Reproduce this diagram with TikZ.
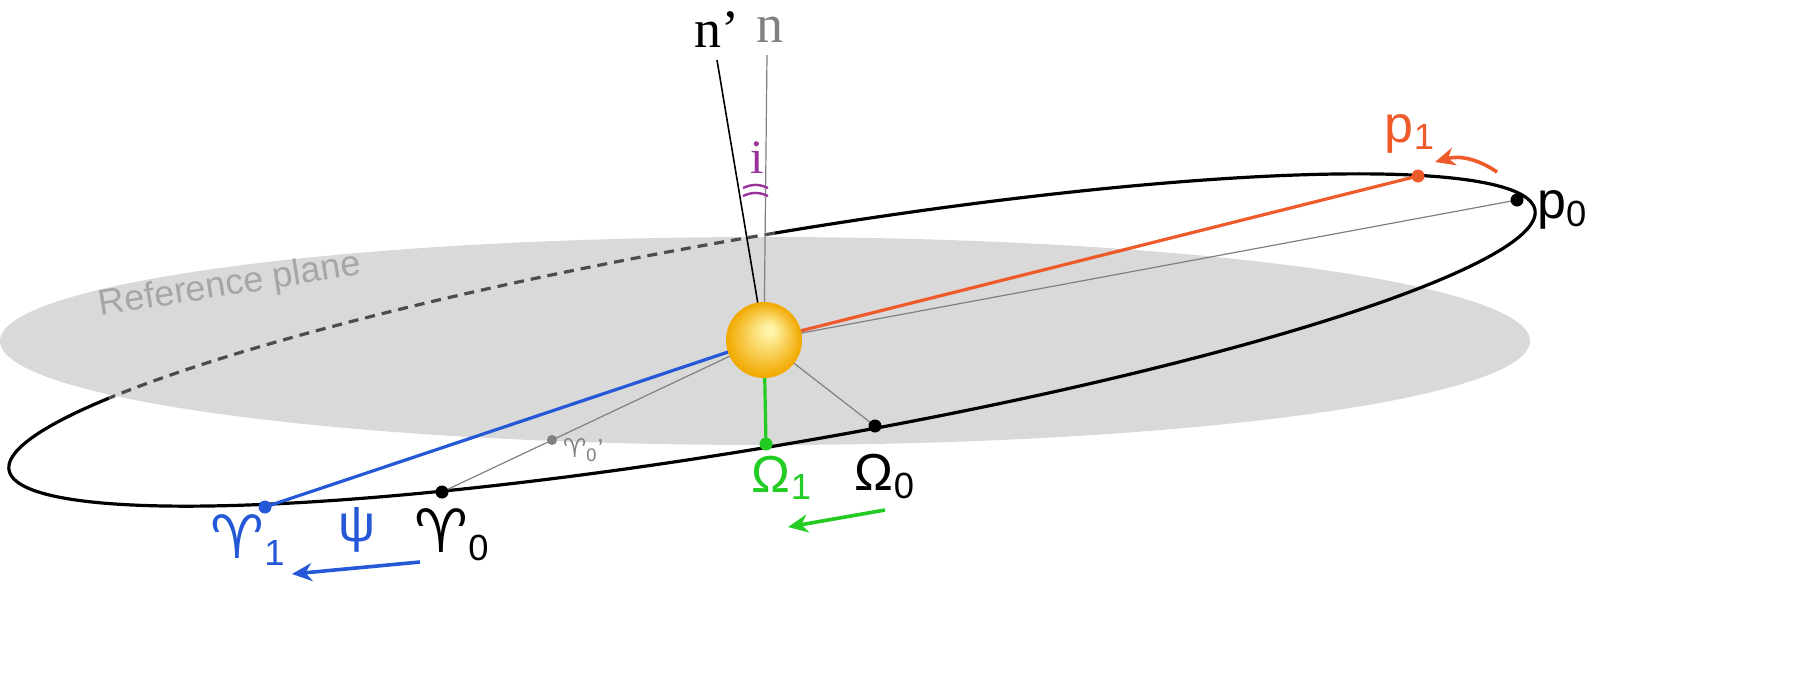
\documentclass[tikz,border=0pt]{standalone}
\usepackage{fontspec}
\setmainfont{Liberation Sans}
\newfontfamily\serifx{Liberation Serif}
\newfontfamily\djv{DejaVu Sans}
\usetikzlibrary{arrows.meta}
\definecolor{plane}{HTML}{D9D9D9}
\definecolor{orng}{HTML}{EE5A2A}
\definecolor{blu}{HTML}{2458D6}
\definecolor{grn}{HTML}{22CC22}
\definecolor{purp}{HTML}{993399}
\definecolor{sunout}{HTML}{F2A900}
\definecolor{sunin}{HTML}{FFF7B0}
\tikzset{
  dotp/.style={circle,fill,inner sep=0pt,minimum size=6.5pt},
  thin gray/.style={draw=gray,line width=0.6pt},
  lbl/.style={font=\fontsize{26}{28}\selectfont},
  arw/.style={line width=1.8pt,-{Stealth[length=10pt,width=9pt]}},
}
\begin{document}
\begin{tikzpicture}[x=0.5pt,y=-0.5pt]
\useasboundingbox (0,0) rectangle (1820,676);
% reference plane
\fill[plane] (765,341) ellipse [x radius=765, y radius=104];
\node[text=gray!70,font=\fontsize{18}{20}\selectfont,rotate=9] (rp) at (230,286) {Reference plane};
% orbit
\draw[line width=1.6pt,black] plot[domain=149:448.5,samples=240] ({772+763*cos(\x)-17.6*sin(\x)},{340-130*cos(\x)-103.5*sin(\x)});
\draw[line width=1.6pt,black!70,dash pattern=on 5pt off 3.5pt] plot[domain=88.5:149,samples=80] ({772+763*cos(\x)-17.6*sin(\x)},{340-130*cos(\x)-103.5*sin(\x)});
% points
\coordinate (sun) at (764,340);
\coordinate (p0) at (1517,200);
\coordinate (p1) at (1418,176);
\coordinate (U1) at (265,507);
\coordinate (U0) at (442,492);
\coordinate (U0p) at (552,440);
\coordinate (O1) at (766,444);
\coordinate (O0) at (875,426);
% axes
\coordinate (ntop) at (767,55);
\coordinate (nptop) at (717,60);
\draw[thin gray] (ntop) -- (sun);
\draw[line width=0.8pt] (nptop) -- (sun);
% lines
\draw[thin gray] (sun) -- (p0);
\draw[thin gray] (sun) -- (U0);
\draw[thin gray] (sun) -- (O0);
\draw[orng,line width=1.6pt] (sun) -- (p1);
\draw[blu,line width=1.6pt] (sun) -- (U1);
\draw[grn,line width=1.6pt] (sun) -- (O1);
% sun
\foreach \k in {0,...,19}{
  \pgfmathsetmacro\r{38-1.7*\k}
  \pgfmathsetmacro\m{100-5*\k}
  \fill[sunout!\m!sunin] ({764+0.3*\k},{340-0.5*\k}) circle (\r);
}
\node[circle,inner sep=0pt,minimum size=38pt] (sunn) at (sun) {};
% dots
\node[dotp,fill=black] (p0d) at (p0) {};
\node[dotp,fill=orng] (p1d) at (p1) {};
\node[dotp,fill=blu] (U1d) at (U1) {};
\node[dotp,fill=black] (U0d) at (U0) {};
\node[dotp,fill=gray,minimum size=5pt] (U0pd) at (U0p) {};
\node[dotp,fill=grn] (O1d) at (O1) {};
\node[dotp,fill=black] (O0d) at (O0) {};
% labels
\node[font=\serifx\fontsize{27}{29}\selectfont] (nl) at (770,30) {\color{gray}n};
\node[font=\serifx\fontsize{27}{29}\selectfont] (npl) at (717,30) {n’};
\node[font=\serifx\fontsize{24}{26}\selectfont,text=purp] (il) at (757,158) {i};
\draw[purp,line width=1.2pt] (743,188) to[bend left=25] (768,188);
\draw[purp,line width=1.2pt] (743,196) to[bend left=25] (768,196);
\node[lbl,text=orng,anchor=base] (p1l) at (1410,142) {p\textsubscript{1}};
\node[lbl,anchor=west] (p0l) at (1530,210) {p\textsubscript{0}};
\coordinate (pa1) at (1497,172);
\coordinate (pa2) at (1435,162);
\draw[orng,arw] (pa1) to[bend right=25] (pa2);
\node[lbl,text=grn,anchor=base] (O1l) at (782,492) {Ω\textsubscript{1}};
\node[lbl,anchor=base] (O0l) at (885,490) {Ω\textsubscript{0}};
\coordinate (ga1) at (885,510);
\coordinate (ga2) at (788,527);
\draw[grn,arw] (ga1) -- (ga2);
\node[lbl,text=blu,anchor=base] (U1l) at (248,558) {{\djv\fontsize{30}{32}\selectfont ♈}\textsubscript{1}};
\node[lbl,text=blu] (psil) at (357,530) {ψ};
\node[lbl,anchor=base] (U0l) at (452,552) {{\djv\fontsize{30}{32}\selectfont ♈}\textsubscript{0}};
\node[text=gray,font=\fontsize{13}{15}\selectfont,anchor=west] (U0pl) at (556,450) {{\djv ♈}\textsubscript{0}’};
\coordinate (ba1) at (420,562);
\coordinate (ba2) at (292,574);
\draw[blu,arw] (ba1) -- (ba2);
\end{tikzpicture}
\end{document}
